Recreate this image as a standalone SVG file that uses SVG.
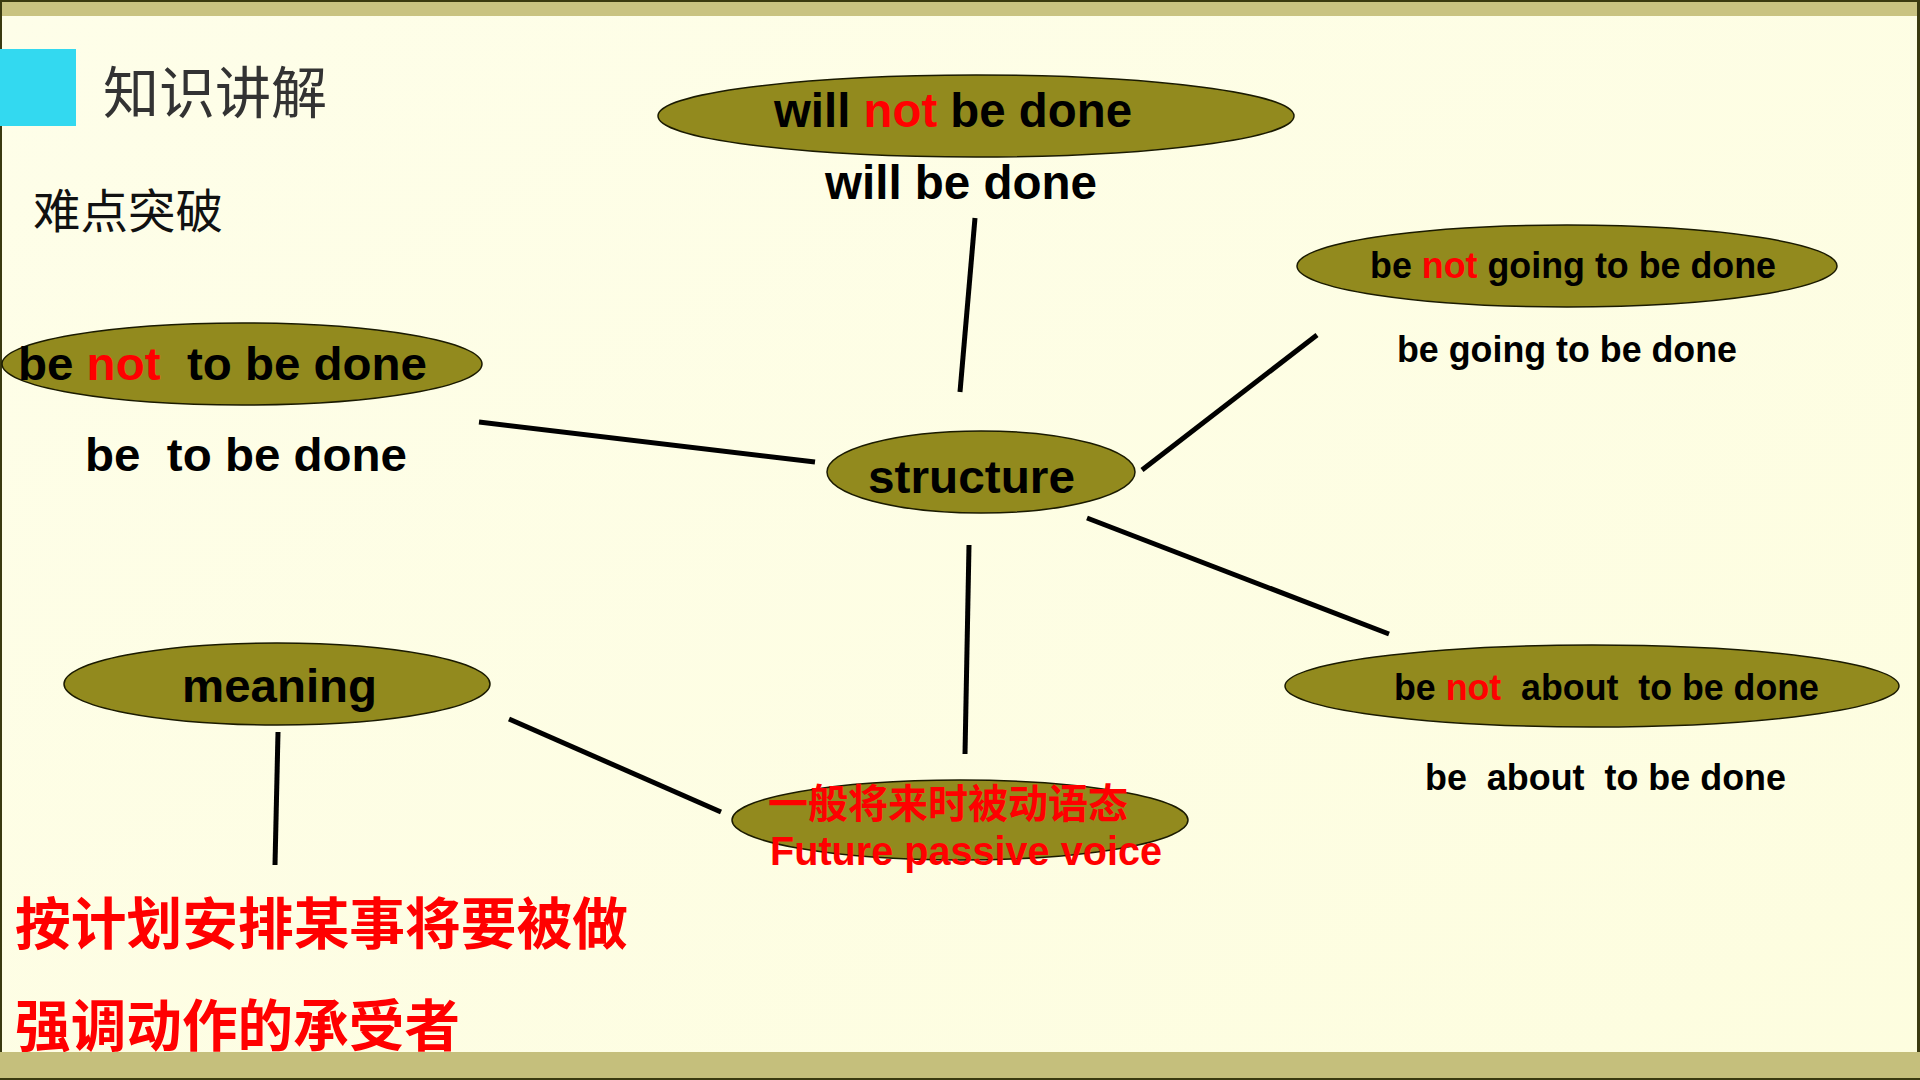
<svg xmlns="http://www.w3.org/2000/svg" width="1920" height="1080" viewBox="0 0 1920 1080">
<defs>
<linearGradient id="bg" x1="0" y1="0" x2="1" y2="1">
<stop offset="0" stop-color="#fefee9"/>
<stop offset="1" stop-color="#fdfddf"/>
</linearGradient>
<style>
.ell{fill:#928a1e;stroke:#1a1a00;stroke-width:1.5}
.t{font-family:"Liberation Sans",Arial,sans-serif;font-weight:bold;fill:#000}
.red{fill:#ff0000}
.cjk{font-family:"Noto Sans CJK SC",sans-serif;font-weight:bold;fill:#ff0000}
.line{stroke:#000;stroke-width:5;fill:none}
</style>
</defs>
<rect x="0" y="0" width="1920" height="1080" fill="url(#bg)"/>
<rect x="0" y="0" width="1920" height="16" fill="#c9c381"/>
<rect x="0" y="0" width="1920" height="2" fill="#3a3a10"/>
<rect x="0" y="0" width="2" height="1080" fill="#3a3a10"/>
<rect x="1917" y="0" width="3" height="1080" fill="#3a3a10"/>
<rect x="0" y="49" width="76" height="77" fill="#33d9f0"/>
<text x="103" y="113" font-family="'Noto Sans CJK SC',sans-serif" font-size="56" fill="#333" textLength="224" lengthAdjust="spacingAndGlyphs">知识讲解</text>
<text x="33" y="228" font-family="'Noto Sans CJK SC',sans-serif" font-size="47" fill="#111" textLength="190" lengthAdjust="spacingAndGlyphs">难点突破</text>

<g id="connectors">
<line class="line" x1="975" y1="218" x2="960" y2="392"/>
<line class="line" x1="479" y1="422" x2="815" y2="462"/>
<line class="line" x1="1142" y1="470" x2="1317" y2="335"/>
<line class="line" x1="1087" y1="518" x2="1389" y2="634"/>
<line class="line" x1="969" y1="545" x2="965" y2="754"/>
<line class="line" x1="278" y1="732" x2="275" y2="865"/>
<line class="line" x1="509" y1="719" x2="721" y2="812"/>
</g>

<g id="node-will-not">
<ellipse class="ell" cx="976" cy="116" rx="318" ry="41"/>
<text class="t" x="774" y="127" font-size="48" textLength="358" lengthAdjust="spacingAndGlyphs">will <tspan class="red">not</tspan> be done</text>
</g>
<g id="node-will">
<text class="t" x="825" y="199" font-size="48" textLength="272" lengthAdjust="spacingAndGlyphs">will be done</text>
</g>
<g id="node-going-not">
<ellipse class="ell" cx="1567" cy="266" rx="270" ry="41"/>
<text class="t" x="1370" y="278" font-size="36" textLength="406" lengthAdjust="spacingAndGlyphs">be <tspan class="red">not</tspan> going to be done</text>
</g>
<g id="node-going">
<text class="t" x="1397" y="362" font-size="36" textLength="340" lengthAdjust="spacingAndGlyphs">be going to be done</text>
</g>
<g id="node-be-not-to">
<ellipse class="ell" cx="242" cy="364" rx="240" ry="41"/>
<text class="t" x="18" y="380" font-size="47" textLength="409" lengthAdjust="spacingAndGlyphs" xml:space="preserve">be <tspan class="red">not</tspan>  to be done</text>
</g>
<g id="node-be-to">
<text class="t" x="85" y="471" font-size="47" textLength="322" lengthAdjust="spacingAndGlyphs" xml:space="preserve">be  to be done</text>
</g>
<g id="node-structure">
<ellipse class="ell" cx="981" cy="472" rx="154" ry="41"/>
<text class="t" x="868" y="493" font-size="47" textLength="207" lengthAdjust="spacingAndGlyphs">structure</text>
</g>
<g id="node-about-not">
<ellipse class="ell" cx="1592" cy="686" rx="307" ry="41"/>
<text class="t" x="1394" y="700" font-size="36" textLength="425" lengthAdjust="spacingAndGlyphs" xml:space="preserve">be <tspan class="red">not</tspan>  about  to be done</text>
</g>
<g id="node-about">
<text class="t" x="1425" y="790" font-size="36" textLength="361" lengthAdjust="spacingAndGlyphs" xml:space="preserve">be  about  to be done</text>
</g>
<g id="node-meaning">
<ellipse class="ell" cx="277" cy="684" rx="213" ry="41"/>
<text class="t" x="182" y="702" font-size="47" textLength="195" lengthAdjust="spacingAndGlyphs">meaning</text>
</g>
<g id="node-future">
<ellipse class="ell" cx="960" cy="820" rx="228" ry="40"/>
<text class="cjk" x="768" y="818" font-size="40" textLength="360" lengthAdjust="spacingAndGlyphs">一般将来时被动语态</text>
<text class="t red" x="770" y="865" font-size="40" textLength="392" lengthAdjust="spacingAndGlyphs">Future passive voice</text>
</g>
<g id="node-meaning-text">
<text class="cjk" x="15" y="944" font-size="56" textLength="613" lengthAdjust="spacingAndGlyphs">按计划安排某事将要被做</text>
<text class="cjk" x="15" y="1046" font-size="56" textLength="445" lengthAdjust="spacingAndGlyphs">强调动作的承受者</text>
</g>
<rect x="0" y="1052" width="1920" height="28" fill="#c5bf7c"/>
<rect x="0" y="1078" width="1920" height="2" fill="#3a3a10"/>
</svg>
